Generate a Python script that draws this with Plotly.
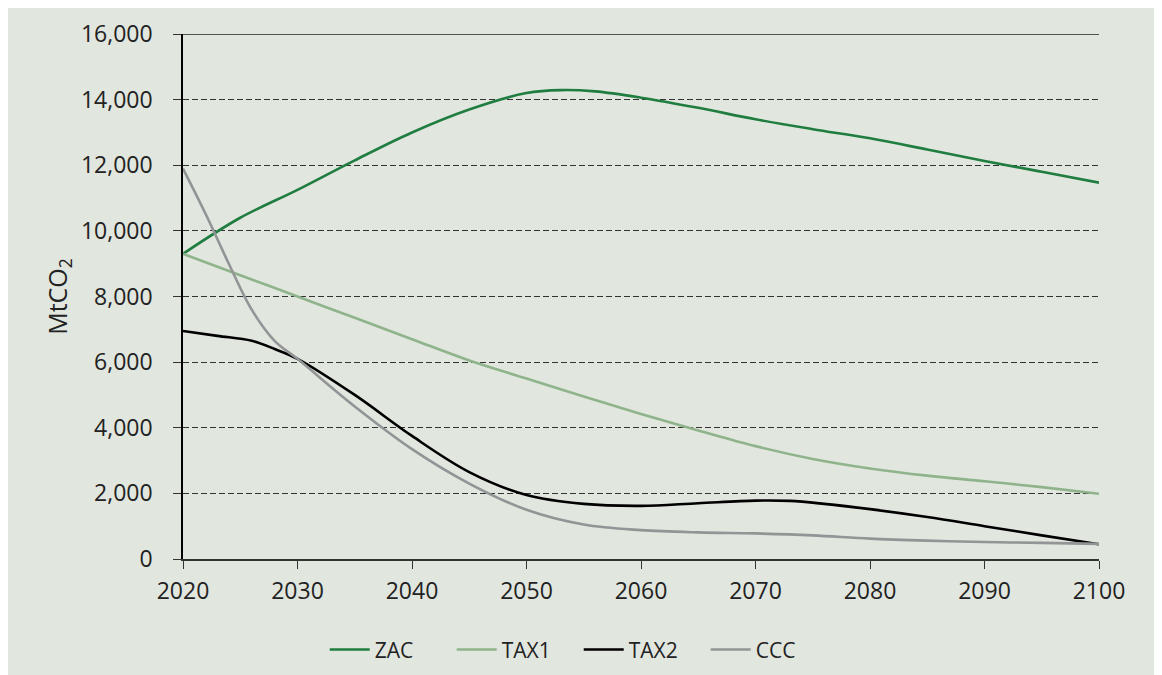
import plotly.graph_objects as go

# ---- data ----
years_zac = [2020, 2025, 2030, 2035, 2040, 2045, 2050, 2053, 2056, 2060, 2065, 2070, 2075, 2080, 2085, 2090, 2095, 2100]
zac = [9300, 10400, 11250, 12150, 13000, 13700, 14200, 14290, 14250, 14060, 13750, 13400, 13100, 12820, 12480, 12130, 11800, 11470]

years_tax1 = [2020, 2025, 2030, 2035, 2040, 2045, 2050, 2055, 2060, 2065, 2070, 2075, 2080, 2085, 2090, 2095, 2100]
tax1 = [9300, 8650, 8000, 7350, 6700, 6050, 5500, 4950, 4420, 3920, 3440, 3050, 2760, 2540, 2370, 2190, 1990]

years_tax2 = [2020, 2023, 2026, 2028, 2030, 2035, 2040, 2045, 2050, 2055, 2060, 2065, 2070, 2073, 2076, 2080, 2085, 2090, 2095, 2100]
tax2 = [6950, 6800, 6650, 6400, 6100, 5000, 3750, 2650, 1950, 1680, 1620, 1700, 1780, 1770, 1680, 1520, 1280, 1000, 720, 450]

years_ccc = [2020, 2022, 2024, 2026, 2028, 2030, 2035, 2040, 2045, 2050, 2055, 2060, 2065, 2070, 2075, 2080, 2085, 2090, 2095, 2100]
ccc = [11900, 10500, 9000, 7600, 6650, 6100, 4650, 3350, 2300, 1500, 1050, 880, 810, 780, 720, 620, 560, 520, 490, 460]

x_ticks = [2020, 2030, 2040, 2050, 2060, 2070, 2080, 2090, 2100]
y_ticks = [0, 2000, 4000, 6000, 8000, 10000, 12000, 14000, 16000]
Y_MAX = 16000

series = [
    ("ZAC", years_zac, zac, "#1f7d40"),
    ("TAX1", years_tax1, tax1, "#8fb48b"),
    ("TAX2", years_tax2, tax2, "#000000"),
    ("CCC", years_ccc, ccc, "#929496"),
]

fig = go.Figure()
for name, xs, ys, col in series:
    fig.add_trace(go.Scatter(x=xs, y=ys, name=name, mode="lines",
                             line=dict(color=col, width=2.6, shape="spline", smoothing=1.0)))

BG = "#e1e6df"
FONT = "Open Sans, Noto Sans, sans-serif"
fig.update_layout(
    width=1162, height=675,
    paper_bgcolor=BG, plot_bgcolor=BG,
    font=dict(family=FONT, size=23, color="#222222"),
    margin=dict(l=175, r=71, t=26, b=124, pad=0, autoexpand=False),
    showlegend=True,
    legend=dict(orientation="h", x=0.432, xanchor="center", y=-0.173, yanchor="middle",
                font=dict(family=FONT, size=21, color="#222222"), itemwidth=40,
                entrywidth=72, entrywidthmode="pixels", bgcolor="rgba(0,0,0,0)"),
    xaxis=dict(range=[2020, 2100], tickvals=x_ticks, ticks="outside", ticklen=8,
               tickcolor="#333", showgrid=False, showline=True, linecolor="#333", linewidth=1.5,
               zeroline=False, ticklabelstandoff=3, automargin=False),
    yaxis=dict(range=[0, Y_MAX], tickvals=y_ticks, tickformat=",d", ticks="outside", ticklen=8,
               tickcolor="#333", showgrid=True, gridcolor="#333", gridwidth=1, griddash="6px,3px",
               showline=True, linecolor="#000", linewidth=1.5, zeroline=False,
               ticklabelstandoff=16, automargin=False,
               title=dict(text="MtCO<sub>2</sub>", standoff=6,
                          font=dict(family=FONT, size=25, color="#222222"))),
    shapes=[
        dict(type="line", xref="paper", yref="y", x0=0, x1=1, y0=Y_MAX, y1=Y_MAX,
             line=dict(color="#222", width=1.5)),
    ],
)

fig.write_html("out.html")
